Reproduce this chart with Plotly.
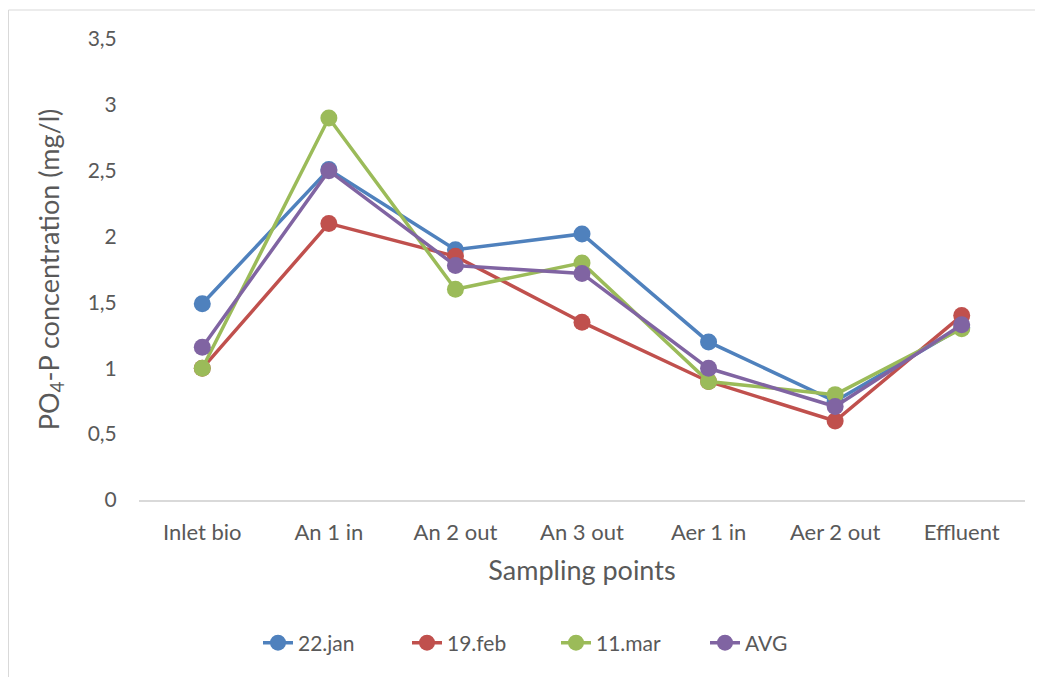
import plotly.graph_objects as go

categories = ["Inlet bio", "An 1 in", "An 2 out", "An 3 out", "Aer 1 in", "Aer 2 out", "Effluent"]
jan22 = [1.49, 2.51, 1.90, 2.02, 1.20, 0.75, 1.31]
feb19 = [1.00, 2.10, 1.85, 1.35, 0.90, 0.60, 1.40]
mar11 = [1.00, 2.90, 1.60, 1.80, 0.90, 0.80, 1.30]
avg = [1.16, 2.50, 1.78, 1.72, 1.00, 0.71, 1.33]
series_names = ["22.jan", "19.feb", "11.mar", "AVG"]
colors = ["#4F81BD", "#C0504D", "#9BBB59", "#8064A2"]
ytick_vals = [0, 0.5, 1, 1.5, 2, 2.5, 3, 3.5]
ytick_text = ["0", "0,5", "1", "1,5", "2", "2,5", "3", "3,5"]

FONT = "Lato, 'Open Sans', sans-serif"
GREY = "#595959"
fig = go.Figure()
for name, vals, c in zip(series_names, [jan22, feb19, mar11, avg], colors):
    fig.add_trace(go.Scatter(
        x=categories, y=vals, name=name, mode="lines+markers",
        line=dict(color=c, width=3.5),
        marker=dict(color=c, size=17),
    ))

W, H = 1035, 669
L, T, R, B = 131, 31, 18, 177
pw, ph = W - L - R, H - T - B

fig.update_layout(
    width=W, height=H,
    margin=dict(l=L, r=R, t=T, b=B),
    paper_bgcolor="white", plot_bgcolor="white",
    font=dict(family=FONT, color=GREY, size=21),
    showlegend=True,
    legend=dict(orientation="h", x=(548 - L) / pw, xanchor="center",
                y=(H - B - 635) / ph, yanchor="middle",
                font=dict(size=21, color=GREY), entrywidth=104, tracegroupgap=0),
    xaxis=dict(type="category", range=[-0.5, 6.5], showgrid=False, showline=True,
               linecolor="#D9D9D9", linewidth=1.5, ticks="outside", tickcolor="rgba(0,0,0,0)",
               ticklen=12, tickfont=dict(size=22, color=GREY),
               title=dict(text="Sampling points", font=dict(size=27, color=GREY), standoff=17),
               zeroline=False),
    yaxis=dict(range=[0, 3.5], tickvals=ytick_vals, ticktext=ytick_text, showgrid=False,
               showline=False, zeroline=False, ticks="outside", tickcolor="rgba(0,0,0,0)",
               ticklen=17, tickfont=dict(size=21, color=GREY),
               title=dict(text="PO<sub>4</sub>-P concentration (mg/l)",
                          font=dict(size=27, color=GREY), standoff=20)),
)

fig.add_shape(type="rect", xref="paper", yref="paper",
              x0=(0.5 - L) / pw, x1=1.05, y0=-0.4, y1=(H - B - 2) / ph,
              line=dict(color="#D9D9D9", width=1), fillcolor="rgba(0,0,0,0)", layer="below")

fig.write_html("out.html")
